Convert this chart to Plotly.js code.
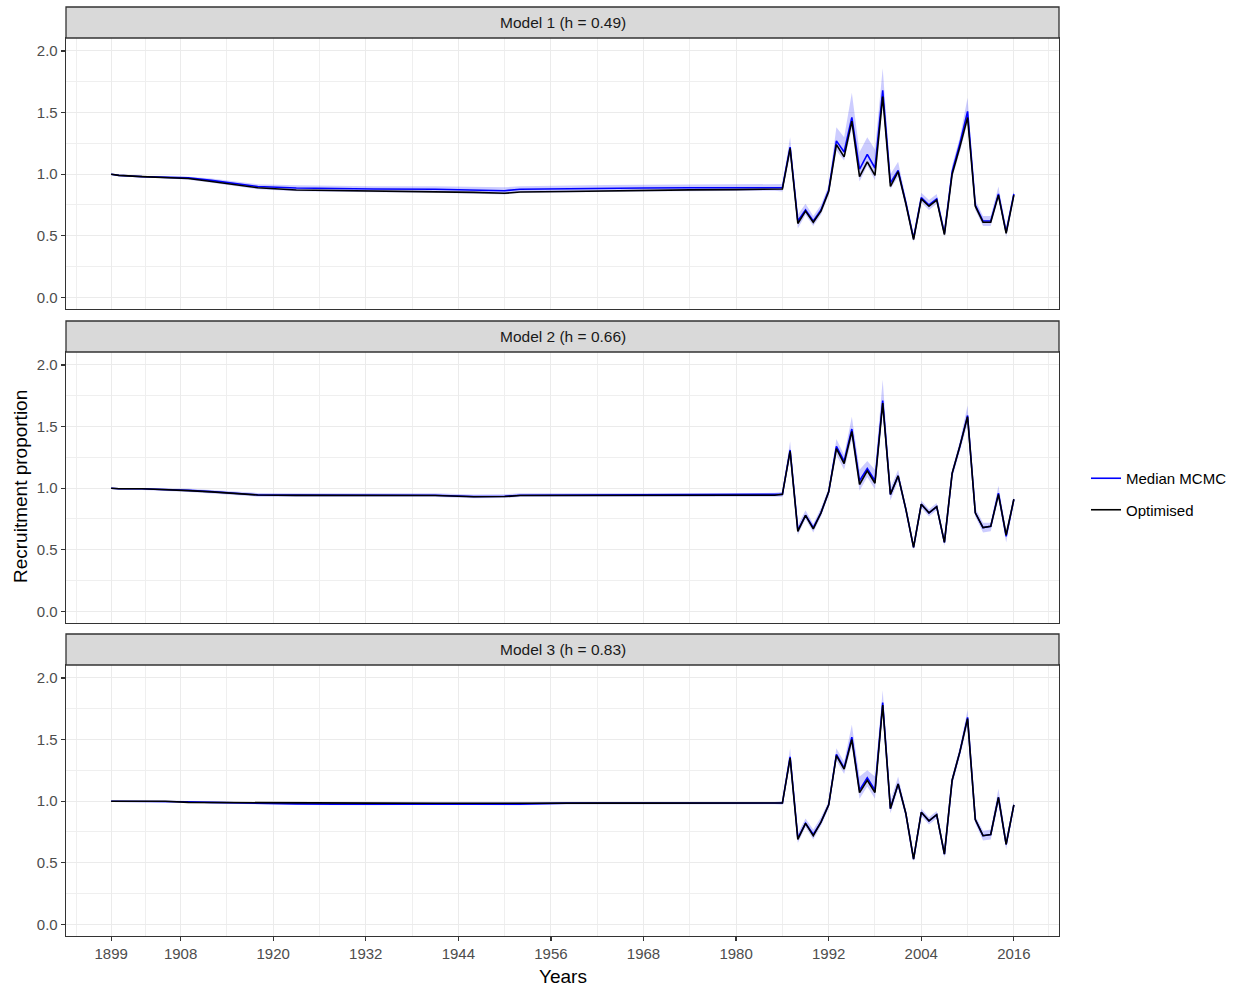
<!DOCTYPE html>
<html>
<head>
<meta charset="utf-8">
<script src="https://cdn.plot.ly/plotly-3.0.1.min.js"></script>
<style>
  html, body { margin: 0; padding: 0; background: #ffffff; }
  #chart { width: 1239px; height: 988px; }
</style>
</head>
<body>
<div id="chart"></div>
<script>
// Years sampled: sparse through the stable early period, annual from 1986
const years = [1899, 1900, 1903, 1906, 1909, 1912, 1916, 1918, 1923, 1928, 1933, 1941, 1946, 1950, 1952, 1958, 1963, 1968, 1974, 1980, 1985,
  1986, 1987, 1988, 1989, 1990, 1991, 1992, 1993, 1994, 1995, 1996, 1997, 1998, 1999, 2000,
  2001, 2002, 2003, 2004, 2005, 2006, 2007, 2008, 2009, 2010, 2011, 2012, 2013, 2014, 2015, 2016];

// Model 1 (h = 0.49)
const m1Opt = [1.00, 0.99, 0.98, 0.97, 0.965, 0.94, 0.905, 0.89, 0.872, 0.868, 0.865, 0.862, 0.852, 0.845, 0.855, 0.86, 0.865, 0.87, 0.873, 0.875, 0.877,
  0.88, 1.21, 0.60, 0.70, 0.61, 0.70, 0.86, 1.24, 1.14, 1.43, 0.98, 1.10, 0.99, 1.63, 0.90,
  1.02, 0.76, 0.47, 0.80, 0.74, 0.79, 0.51, 1.00, 1.22, 1.46, 0.74, 0.61, 0.61, 0.83, 0.52, 0.83];
const m1Med = [1.00, 0.99, 0.98, 0.975, 0.97, 0.95, 0.915, 0.90, 0.888, 0.882, 0.88, 0.878, 0.872, 0.866, 0.878, 0.884, 0.886, 0.888, 0.89, 0.892, 0.893,
  0.89, 1.22, 0.62, 0.71, 0.62, 0.71, 0.87, 1.27, 1.18, 1.46, 1.04, 1.16, 1.05, 1.68, 0.93,
  1.03, 0.77, 0.48, 0.81, 0.75, 0.80, 0.52, 1.02, 1.25, 1.51, 0.75, 0.62, 0.62, 0.84, 0.53, 0.84];
const m1Lo = [1.00, 0.99, 0.978, 0.965, 0.955, 0.93, 0.895, 0.878, 0.862, 0.856, 0.854, 0.85, 0.843, 0.836, 0.848, 0.854, 0.857, 0.86, 0.862, 0.864, 0.866,
  0.86, 1.15, 0.56, 0.67, 0.58, 0.67, 0.83, 1.19, 1.11, 1.37, 0.94, 1.07, 0.95, 1.56, 0.88,
  0.98, 0.73, 0.45, 0.77, 0.71, 0.76, 0.49, 0.97, 1.18, 1.42, 0.71, 0.58, 0.58, 0.80, 0.49, 0.80];
const m1Hi = [1.00, 0.99, 0.982, 0.98, 0.98, 0.965, 0.93, 0.918, 0.91, 0.905, 0.903, 0.903, 0.898, 0.893, 0.903, 0.91, 0.912, 0.915, 0.918, 0.92, 0.92,
  0.92, 1.30, 0.67, 0.76, 0.66, 0.75, 0.91, 1.38, 1.30, 1.66, 1.18, 1.30, 1.20, 1.86, 1.00,
  1.10, 0.81, 0.51, 0.85, 0.79, 0.84, 0.56, 1.07, 1.30, 1.62, 0.79, 0.66, 0.66, 0.90, 0.57, 0.87];

// Model 2 (h = 0.66)
const m2Opt = [1.00, 0.995, 0.995, 0.99, 0.98, 0.97, 0.95, 0.945, 0.942, 0.942, 0.942, 0.94, 0.93, 0.932, 0.94, 0.942, 0.942, 0.942, 0.943, 0.943, 0.943,
  0.95, 1.30, 0.65, 0.78, 0.67, 0.80, 0.97, 1.32, 1.20, 1.46, 1.03, 1.14, 1.04, 1.69, 0.95,
  1.10, 0.83, 0.52, 0.87, 0.80, 0.85, 0.56, 1.12, 1.34, 1.58, 0.80, 0.68, 0.69, 0.95, 0.62, 0.91];
const m2Med = [1.00, 0.995, 0.995, 0.99, 0.982, 0.972, 0.952, 0.946, 0.944, 0.944, 0.944, 0.943, 0.933, 0.935, 0.943, 0.944, 0.945, 0.946, 0.947, 0.947, 0.947,
  0.95, 1.31, 0.66, 0.78, 0.68, 0.80, 0.97, 1.34, 1.22, 1.48, 1.06, 1.16, 1.06, 1.71, 0.95,
  1.10, 0.83, 0.52, 0.87, 0.80, 0.85, 0.56, 1.12, 1.34, 1.59, 0.80, 0.68, 0.69, 0.96, 0.61, 0.91];
const m2Lo = [1.00, 0.99, 0.985, 0.978, 0.968, 0.957, 0.937, 0.931, 0.929, 0.929, 0.929, 0.928, 0.918, 0.92, 0.928, 0.929, 0.93, 0.931, 0.932, 0.932, 0.932,
  0.93, 1.25, 0.62, 0.75, 0.64, 0.77, 0.94, 1.27, 1.15, 1.40, 0.98, 1.09, 0.99, 1.62, 0.90,
  1.06, 0.80, 0.50, 0.84, 0.77, 0.82, 0.53, 1.08, 1.30, 1.52, 0.77, 0.64, 0.65, 0.91, 0.56, 0.88];
const m2Hi = [1.00, 1.00, 1.00, 1.00, 0.995, 0.985, 0.966, 0.961, 0.959, 0.959, 0.959, 0.958, 0.948, 0.95, 0.958, 0.959, 0.96, 0.961, 0.962, 0.962, 0.962,
  0.97, 1.38, 0.70, 0.82, 0.71, 0.84, 1.00, 1.40, 1.27, 1.58, 1.15, 1.22, 1.15, 1.88, 1.00,
  1.15, 0.86, 0.55, 0.90, 0.83, 0.88, 0.59, 1.15, 1.38, 1.67, 0.84, 0.72, 0.72, 1.02, 0.66, 0.93];

// Model 3 (h = 0.83)
const m3Opt = [1.00, 1.00, 1.00, 1.00, 0.99, 0.99, 0.985, 0.985, 0.984, 0.984, 0.984, 0.983, 0.982, 0.982, 0.983, 0.984, 0.984, 0.984, 0.984, 0.984, 0.984,
  0.985, 1.35, 0.69, 0.82, 0.72, 0.83, 0.97, 1.37, 1.26, 1.50, 1.07, 1.17, 1.07, 1.78, 0.94,
  1.14, 0.90, 0.53, 0.91, 0.84, 0.89, 0.57, 1.17, 1.40, 1.67, 0.85, 0.72, 0.73, 1.03, 0.65, 0.97];
const m3Med = [1.00, 1.00, 1.00, 1.00, 0.995, 0.99, 0.985, 0.985, 0.978, 0.976, 0.976, 0.98, 0.978, 0.976, 0.976, 0.984, 0.985, 0.985, 0.985, 0.985, 0.985,
  0.985, 1.36, 0.70, 0.82, 0.73, 0.83, 0.97, 1.38, 1.27, 1.52, 1.09, 1.19, 1.09, 1.80, 0.94,
  1.14, 0.90, 0.53, 0.91, 0.84, 0.89, 0.57, 1.17, 1.40, 1.68, 0.85, 0.72, 0.73, 1.03, 0.65, 0.97];
const m3Lo = [1.00, 1.00, 0.995, 0.99, 0.985, 0.98, 0.975, 0.975, 0.968, 0.966, 0.966, 0.97, 0.968, 0.966, 0.966, 0.974, 0.975, 0.975, 0.975, 0.975, 0.975,
  0.97, 1.30, 0.66, 0.79, 0.69, 0.80, 0.94, 1.33, 1.22, 1.45, 1.02, 1.12, 1.02, 1.72, 0.90,
  1.10, 0.87, 0.51, 0.88, 0.81, 0.86, 0.54, 1.13, 1.36, 1.62, 0.82, 0.68, 0.69, 0.98, 0.61, 0.94];
const m3Hi = [1.00, 1.00, 1.00, 1.00, 1.00, 0.998, 0.993, 0.993, 0.99, 0.99, 0.99, 0.99, 0.99, 0.99, 0.99, 0.993, 0.994, 0.994, 0.994, 0.994, 0.994,
  1.00, 1.43, 0.74, 0.86, 0.77, 0.87, 1.00, 1.43, 1.32, 1.62, 1.20, 1.25, 1.20, 1.90, 1.00,
  1.20, 0.93, 0.56, 0.94, 0.87, 0.92, 0.60, 1.20, 1.44, 1.74, 0.88, 0.76, 0.77, 1.10, 0.70, 1.00];

const panelTitles = ['Model 1 (h = 0.49)', 'Model 2 (h = 0.66)', 'Model 3 (h = 0.83)'];
const xTickVals = [1899, 1908, 1920, 1932, 1944, 1956, 1968, 1980, 1992, 2004, 2016];
const xMinorVals = [1894.5, 1903.5, 1914, 1926, 1938, 1950, 1962, 1974, 1986, 1998, 2010, 2020.5];
const yTickVals = [0, 0.5, 1, 1.5, 2];
const yTickText = ['0.0', '0.5', '1.0', '1.5', '2.0'];
const yMinorVals = [0.25, 0.75, 1.25, 1.75];

const panels = [
  { opt: m1Opt, med: m1Med, lo: m1Lo, hi: m1Hi },
  { opt: m2Opt, med: m2Med, lo: m2Lo, hi: m2Hi },
  { opt: m3Opt, med: m3Med, lo: m3Lo, hi: m3Hi }
];

const W = 1239, H = 988;
const FONT = 'Liberation Sans, Arial, sans-serif';
const plotLeft = 66, plotRight = 1059;
// panel tops/bottoms (strip sits above each panel)
const panelBox = [
  { stripTop: 7, top: 38, bottom: 309 },
  { stripTop: 321, top: 352, bottom: 623 },
  { stripTop: 634, top: 665, bottom: 936 }
];
const BLUE = '#0000FF';
const RIBBON = 'rgba(0,0,255,0.2)';

const traces = [];
panels.forEach((p, i) => {
  const xa = i === 0 ? 'x' : 'x' + (i + 1);
  const ya = i === 0 ? 'y' : 'y' + (i + 1);
  traces.push({
    x: years, y: p.lo, xaxis: xa, yaxis: ya, type: 'scatter', mode: 'lines',
    line: { width: 0, color: RIBBON }, showlegend: false, hoverinfo: 'skip'
  });
  traces.push({
    x: years, y: p.hi, xaxis: xa, yaxis: ya, type: 'scatter', mode: 'lines',
    line: { width: 0, color: RIBBON }, fill: 'tonexty', fillcolor: RIBBON,
    showlegend: false, hoverinfo: 'skip'
  });
  traces.push({
    x: years, y: p.med, xaxis: xa, yaxis: ya, type: 'scatter', mode: 'lines',
    name: 'Median MCMC', legendgroup: 'med', showlegend: i === 0,
    line: { color: BLUE, width: 1.6 }
  });
  traces.push({
    x: years, y: p.opt, xaxis: xa, yaxis: ya, type: 'scatter', mode: 'lines',
    name: 'Optimised', legendgroup: 'opt', showlegend: i === 0,
    line: { color: '#000000', width: 1.6 }
  });
});

const layout = {
  width: W, height: H,
  margin: { l: 0, r: 0, t: 0, b: 0 },
  paper_bgcolor: '#ffffff', plot_bgcolor: '#ffffff',
  font: { family: FONT, color: '#000000' },
  showlegend: true,
  legend: {
    x: 1086 / W, y: 1 - 494 / H, xanchor: 'left', yanchor: 'middle',
    font: { family: FONT, size: 15, color: '#000000' },
    traceorder: 'grouped', tracegroupgap: 9, bgcolor: 'rgba(0,0,0,0)'
  },
  shapes: [], annotations: []
};

panelBox.forEach((b, i) => {
  const sfx = i === 0 ? '' : String(i + 1);
  const yDom = [1 - b.bottom / H, 1 - b.top / H];
  layout['xaxis' + sfx] = {
    domain: [plotLeft / W, plotRight / W],
    anchor: 'y' + sfx,
    range: [1893.15, 2021.85],
    tickmode: 'array', tickvals: xTickVals, ticktext: xTickVals.map(String),
    showticklabels: i === 2,
    ticks: i === 2 ? 'outside' : '', ticklen: 4, tickwidth: 1.2, tickcolor: '#333333',
    tickfont: { family: FONT, size: 15, color: '#4D4D4D' },
    showgrid: true, gridcolor: '#EBEBEB', gridwidth: 1,
    minor: { tickmode: 'array', tickvals: xMinorVals, showgrid: true, gridcolor: '#EFEFEF', gridwidth: 1, ticks: '' },
    zeroline: false, showline: true, mirror: true, linecolor: '#333333', linewidth: 1.3,
    fixedrange: true
  };
  layout['yaxis' + sfx] = {
    domain: yDom,
    anchor: 'x' + sfx,
    range: [-0.094, 2.105],
    tickmode: 'array', tickvals: yTickVals, ticktext: yTickText,
    ticks: 'outside', ticklen: 4, tickwidth: 1.2, tickcolor: '#333333',
    tickfont: { family: FONT, size: 15, color: '#4D4D4D' },
    showgrid: true, gridcolor: '#EBEBEB', gridwidth: 1,
    minor: { tickmode: 'array', tickvals: yMinorVals, showgrid: true, gridcolor: '#EFEFEF', gridwidth: 1, ticks: '' },
    zeroline: false, showline: true, mirror: true, linecolor: '#333333', linewidth: 1.3,
    fixedrange: true
  };
  // facet strip
  layout.shapes.push({
    type: 'rect', xref: 'paper', yref: 'paper',
    x0: plotLeft / W, x1: plotRight / W, y0: 1 - b.top / H, y1: 1 - b.stripTop / H,
    fillcolor: '#D9D9D9', line: { color: '#333333', width: 1.3 }
  });
  layout.annotations.push({
    xref: 'paper', yref: 'paper',
    x: (plotLeft + plotRight) / 2 / W, y: 1 - (b.stripTop + b.top) / 2 / H,
    xanchor: 'center', yanchor: 'middle', showarrow: false,
    text: panelTitles[i],
    font: { family: FONT, size: 15.5, color: '#1A1A1A' }
  });
});

layout.annotations.push({
  xref: 'paper', yref: 'paper', x: (plotLeft + plotRight) / 2 / W, y: 1 - 976 / H,
  xanchor: 'center', yanchor: 'middle', showarrow: false, text: 'Years',
  font: { family: FONT, size: 19, color: '#000000' }
});
layout.annotations.push({
  xref: 'paper', yref: 'paper', x: 20 / W, y: 1 - 487 / H,
  xanchor: 'center', yanchor: 'middle', showarrow: false, textangle: -90,
  text: 'Recruitment proportion',
  font: { family: FONT, size: 19, color: '#000000' }
});

Plotly.newPlot('chart', traces, layout, { displayModeBar: false, staticPlot: true });
</script>
</body>
</html>
